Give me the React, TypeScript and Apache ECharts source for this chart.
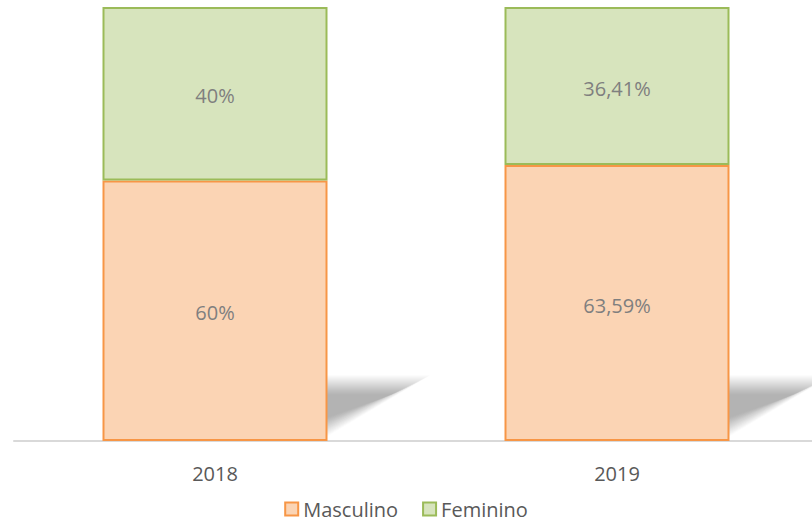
import React, { useEffect, useRef } from "react";
import * as echarts from "echarts";

const categories = ["2018", "2019"];
const masculino = [60, 63.59];
const feminino = [40, 36.41];
const masculinoLabels = ["60%", "63,59%"];
const femininoLabels = ["40%", "36,41%"];

const FONT = "'Open Sans', 'Liberation Sans', sans-serif";

export default function App() {
  const ref = useRef<HTMLDivElement>(null);
  useEffect(() => {
    document.body.style.margin = "0";
    if (!ref.current) return;
    const chart = echarts.init(ref.current, undefined, { renderer: "svg" });
    const barW = 225;
    chart.setOption({
      animation: false,
      grid: { left: 14, width: 804, top: 7, bottom: 83, containLabel: false, outerBoundsMode: "none" },
      legend: {
        bottom: 0,
        left: "center",
        itemWidth: 13,
        itemHeight: 13,
        itemGap: 24,
        textStyle: { fontSize: 20, color: "#595959", fontFamily: FONT },
        data: [
          { name: "Masculino", icon: "rect", itemStyle: { color: "#fbd4b4", borderColor: "#f79646", borderWidth: 2 } },
          { name: "Feminino", icon: "rect", itemStyle: { color: "#d7e4bd", borderColor: "#9bbb59", borderWidth: 2 } },
        ],
      },
      xAxis: {
        type: "category",
        data: categories,
        axisLine: { lineStyle: { color: "#d9d9d9", width: 2 } },
        axisTick: { show: false },
        axisLabel: { fontSize: 20, color: "#595959", margin: 22, fontFamily: FONT },
      },
      yAxis: { type: "value", min: 0, max: 100, show: false, splitLine: { show: false } },
      series: [
        {
          name: "Masculino",
          type: "bar",
          stack: "total",
          barWidth: barW,
          data: masculino,
          itemStyle: { color: "#fbd4b4", borderColor: "#f79646", borderWidth: 2 },
          label: {
            show: true,
            position: "inside",
            fontSize: 20,
            color: "#7f7f7f",
            fontFamily: FONT,
            offset: [0, 2],
            formatter: (p: any) => masculinoLabels[p.dataIndex],
          },
        },
        {
          name: "Feminino",
          type: "bar",
          stack: "total",
          barWidth: barW,
          data: feminino,
          itemStyle: { color: "#d7e4bd", borderColor: "#9bbb59", borderWidth: 2 },
          label: {
            show: true,
            position: "inside",
            fontSize: 20,
            color: "#7f7f7f",
            fontFamily: FONT,
            offset: [0, 2],
            formatter: (p: any) => femininoLabels[p.dataIndex],
          },
        },
      ],
    });
    // decorative soft drop shadows behind the bars (layered to fake a blur)
    const shadows: any[] = [];
    categories.forEach((c) => {
      const base = chart.convertToPixel({ seriesIndex: 0 }, [c, 0]) as number[];
      const top = chart.convertToPixel({ seriesIndex: 0 }, [c, 14]) as number[];
      const x0 = base[0] + barW / 2;
      const yt = top[1] + 7;
      const yb = base[1] - 12;
      for (let k = -7; k <= 12; k++) {
        shadows.push({
          type: "polygon",
          z: -1,
          silent: true,
          shape: {
            points: [
              [x0 - 10, yt - k],
              [x0 + 80 + k * 1.9, yt - k],
              [x0 - 10, yb + k * 1.1],
            ],
          },
          style: { fill: "rgba(0,0,0,0.0145)" },
        });
      }
    });
    chart.setOption({ graphic: shadows });
    return () => chart.dispose();
  }, []);
  return <div ref={ref} style={{ width: 812, height: 524 }} />;
}
